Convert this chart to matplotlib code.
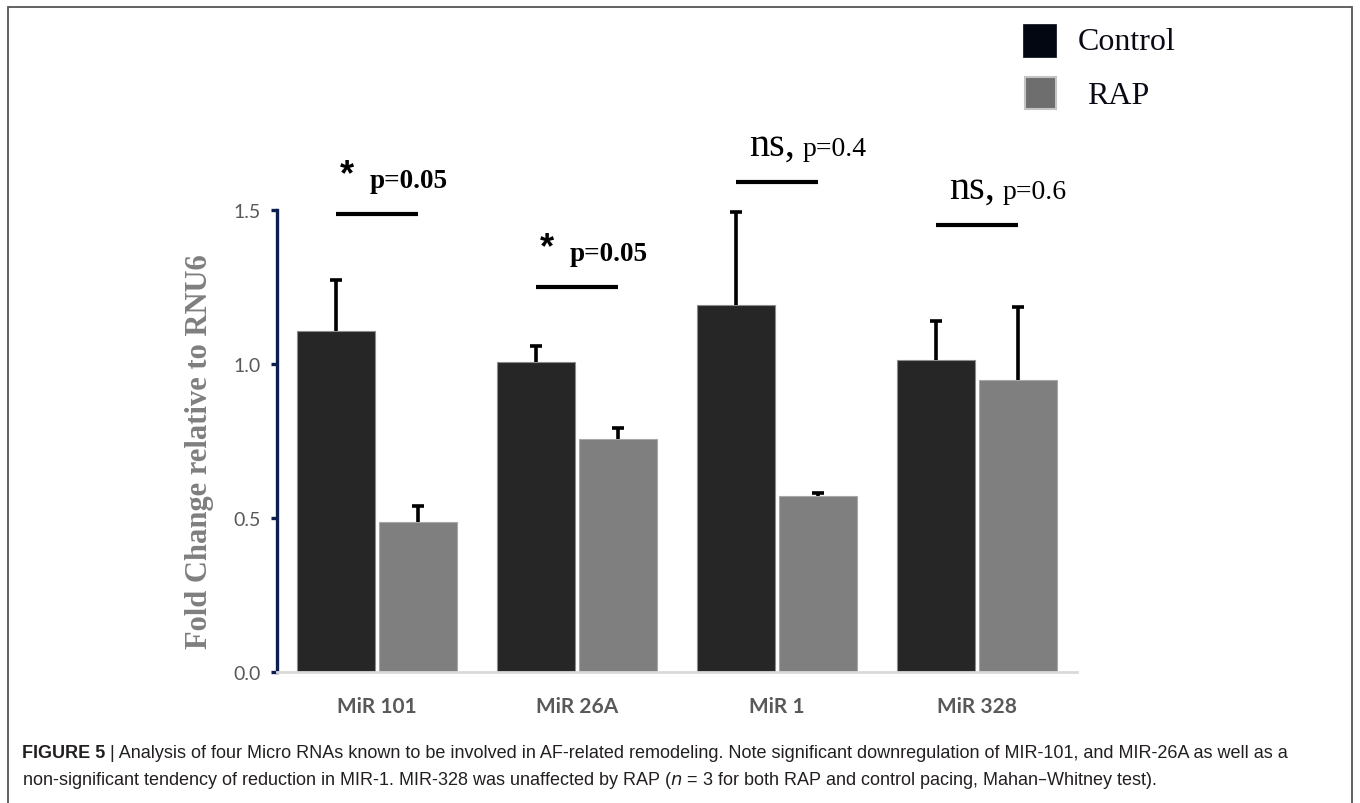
import matplotlib.pyplot as plt
from matplotlib.patches import Rectangle
import numpy as np

# values
mirnas = ['MiR 101', 'MiR 26A', 'MiR 1', 'MiR 328']
control = [1.108, 1.006, 1.193, 1.012]
control_err = [0.166, 0.051, 0.302, 0.128]
rap = [0.488, 0.755, 0.571, 0.947]
rap_err = [0.051, 0.038, 0.011, 0.239]

# significance annotations
sig_y = [1.487, 1.25, 1.591, 1.451]
sig_mark = ['*', '*', 'ns,', 'ns,']
sig_p = ['p=0.05', 'p=0.05', 'p=0.4', 'p=0.6']
y_ticks = [0.0, 0.5, 1.0, 1.5]

caption_1 = ('Analysis of four Micro RNAs known to be involved in AF-related remodeling. '
             'Note significant downregulation of MIR-101, and MIR-26A as well as a')
caption_2 = (r'non-significant tendency of reduction in MIR-1. MIR-328 was unaffected by RAP ($\it{n}$ = 3 '
             'for both RAP and control pacing, Mahan\u2013Whitney test).')

W, H = 1360, 804
fig = plt.figure(figsize=(W / 100, H / 100), dpi=100)
ax = fig.add_axes([277 / W, (H - 673) / H, 800 / W, 462 / H])

x = np.arange(len(mirnas))
bw = 0.39
off = 0.205
ax.bar(x - off, control, bw, color='#262626', edgecolor='#8c8c8c', linewidth=0.8, zorder=2)
ax.bar(x + off, rap, bw, color='#7f7f7f', edgecolor='#a8a8a8', linewidth=0.8, zorder=2)

# upper error bars only
for xs, vals, errs in [(x - off, control, control_err), (x + off, rap, rap_err)]:
    tops = np.array(vals) + np.array(errs)
    ax.vlines(xs, vals, tops, color='black', linewidth=2.6, zorder=3)
    ax.plot(xs, tops, linestyle='none', marker='_', markersize=8, markeredgewidth=2.6,
            color='black', zorder=3)

ax.set_xlim(-0.5, 3.5)
ax.set_ylim(0, 1.5)
ax.set_yticks(y_ticks)
ax.set_yticklabels([f'{t:.1f}' for t in y_ticks])
ax.set_xticks(x)
ax.set_xticklabels(mirnas)

for s in ['top', 'right']:
    ax.spines[s].set_visible(False)
ax.spines['left'].set_color('#0c1f4f')
ax.spines['left'].set_linewidth(2.4)
ax.spines['bottom'].set_color('#d9d9d9')
ax.spines['bottom'].set_linewidth(2)

ax.tick_params(axis='y', length=4, width=2.4, color='#0c1f4f', pad=8,
               labelsize=14, labelcolor='#595959')
ax.tick_params(axis='x', length=0, pad=17, labelsize=15, labelcolor='#595959')
for lab in ax.get_yticklabels():
    lab.set_family('Lato')
for lab in ax.get_xticklabels():
    lab.set_family('Lato')
    lab.set_fontweight('bold')

# significance lines and labels
for i in range(len(mirnas)):
    ax.plot([i - off, i + off], [sig_y[i], sig_y[i]], color='black', linewidth=3,
            clip_on=False, solid_capstyle='butt')
    base = sig_y[i] + 27 / 308
    if sig_mark[i] == '*':
        ax.text(i - 0.15, base + 0.04, '*', ha='center', va='center', fontsize=26,
                fontweight='bold', family='Liberation Sans', clip_on=False)
        ax.text(i - 0.035, base, sig_p[i], ha='left', va='baseline', fontsize=19.5,
                fontweight='bold', family='Liberation Serif', clip_on=False)
    else:
        ax.text(i - 0.14, base, sig_mark[i], ha='left', va='baseline', fontsize=29,
                family='Liberation Serif', clip_on=False)
        ax.text(i + 0.13, base, sig_p[i], ha='left', va='baseline', fontsize=20,
                family='Liberation Serif', clip_on=False)

fig.text(200 / W, 1 - 452 / H, 'Fold Change relative to RNU6', rotation=90,
         ha='center', va='center', fontsize=22, fontweight='bold', color='#7f7f7f',
         family='Liberation Serif')

# legend
fig.patches.append(Rectangle((1023 / W, 1 - 58 / H), 33 / W, 33 / H, transform=fig.transFigure,
                             facecolor='#030712', edgecolor='#030712', linewidth=0.5))
fig.patches.append(Rectangle((1025 / W, 1 - 110 / H), 31 / W, 32 / H, transform=fig.transFigure,
                             facecolor='#6e6e6e', edgecolor='#c4c4c4', linewidth=1.5))
fig.text(1078 / W, 1 - 43 / H, 'Control', ha='left', va='center', fontsize=23,
         family='Liberation Serif', color='#0a0a14')
fig.text(1087 / W, 1 - 96 / H, 'RAP', ha='left', va='center', fontsize=23,
         family='Liberation Serif', color='#0a0a14')

# outer frame
fig.patches.append(Rectangle((8 / W, -0.05), 1344 / W, 1.05 - 8 / H, transform=fig.transFigure,
                             facecolor='none', edgecolor='#555555', linewidth=1.3))

# caption
head = fig.text(22 / W, 1 - 758 / H, 'FIGURE 5', ha='left', va='baseline', fontsize=13,
                fontweight='bold', family='Liberation Sans', color='#231f20')
ax.annotate(' | ' + caption_1, xy=(1, 0), xycoords=head, va='bottom', ha='left',
            fontsize=13, family='Liberation Sans', color='#231f20', annotation_clip=False)
fig.text(22 / W, 1 - 781 / H, caption_2, ha='left', va='center',
         fontsize=13, family='Liberation Sans', color='#231f20')

fig.savefig('out.png', dpi=100)
